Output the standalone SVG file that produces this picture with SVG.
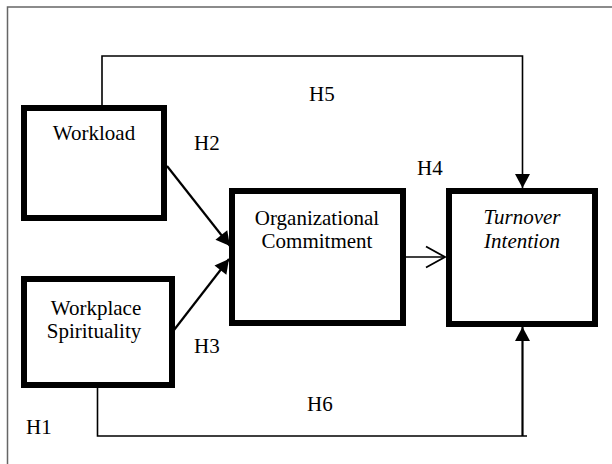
<svg xmlns="http://www.w3.org/2000/svg" width="612" height="464" viewBox="0 0 612 464">
  <style>
    .box { fill: #fff; stroke: #000; stroke-width: 6; }
    .lbl { font-family: "Liberation Serif", "Times New Roman", serif; font-size: 21px; fill: #000; }
    .it { font-style: italic; }
    .con { fill: none; stroke: #000; stroke-width: 1.6; }
    .thick { stroke-width: 2.2; }
  </style>
  <defs>
    <marker id="fill" markerUnits="userSpaceOnUse" markerWidth="16" markerHeight="16" viewBox="0 0 14 16" refX="14" refY="8" orient="auto">
      <path d="M0,0.5 L14,8 L0,15.5 Z" fill="#000"/>
    </marker>
    <marker id="open" markerUnits="userSpaceOnUse" markerWidth="24" markerHeight="24" viewBox="0 0 22 24" refX="20" refY="12" orient="auto">
      <path d="M1,1.5 L20,12 L1,22.5" fill="none" stroke="#000" stroke-width="1.8"/>
    </marker>
  </defs>

  <path d="M7.5,464 V7 H612" fill="none" stroke="#666" stroke-width="1.5"/>

  <g id="connectors">
    <path class="con" d="M102,105 V56 H522.5 V188" marker-end="url(#fill)"/>
    <path class="con" d="M97.5,388 V436 H527"/>
    <path class="con thick" d="M522.5,436 V327" marker-end="url(#fill)"/>
    <path class="con thick" d="M167,166 L230,246" marker-end="url(#fill)"/>
    <path class="con thick" d="M174,330 L229,259" marker-end="url(#fill)"/>
    <path class="con" d="M405,257 H445" marker-end="url(#open)"/>
  </g>

  <g id="workload">
    <rect class="box" x="24" y="108" width="140" height="110"/>
    <text class="lbl" x="94" y="140" text-anchor="middle">Workload</text>
  </g>
  <g id="workplace-spirituality">
    <rect class="box" x="24" y="279" width="148" height="106"/>
    <text class="lbl" x="96" y="315" text-anchor="middle">Workplace</text>
    <text class="lbl" x="94" y="338" text-anchor="middle">Spirituality</text>
  </g>
  <g id="organizational-commitment">
    <rect class="box" x="232" y="191" width="171" height="132"/>
    <text class="lbl" x="317" y="225" text-anchor="middle">Organizational</text>
    <text class="lbl" x="317" y="248" text-anchor="middle">Commitment</text>
  </g>
  <g id="turnover-intention">
    <rect class="box" x="449" y="191" width="146" height="133"/>
    <text class="lbl it" x="522" y="224" text-anchor="middle">Turnover</text>
    <text class="lbl it" x="522" y="248" text-anchor="middle">Intention</text>
  </g>

  <g id="labels">
    <text class="lbl" x="194" y="150">H2</text>
    <text class="lbl" x="194" y="353">H3</text>
    <text class="lbl" x="417" y="175">H4</text>
    <text class="lbl" x="309" y="101">H5</text>
    <text class="lbl" x="307" y="411">H6</text>
    <text class="lbl" x="26" y="434">H1</text>
  </g>
</svg>
